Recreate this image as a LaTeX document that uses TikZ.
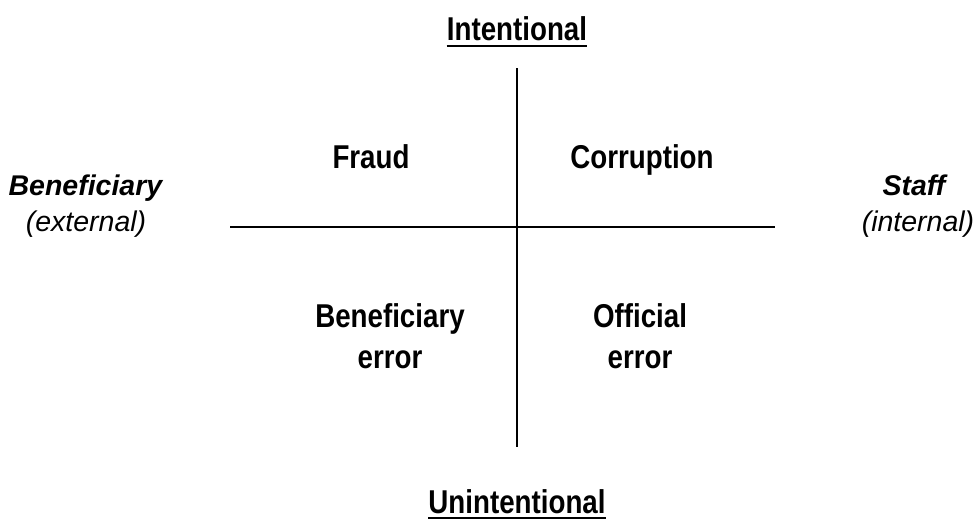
\documentclass[tikz,border=0pt]{standalone}
\usepackage{fontspec}
\setmainfont{Liberation Sans}
\newfontfamily\narrowfont{Liberation Sans}[FakeStretch=0.84]
\begin{document}
\begin{tikzpicture}[x=1pt,y=-1pt,
  axis/.style={line width=2.6pt},
  lbl/.style={font=\narrowfont\fontsize{33}{41}\selectfont\bfseries, align=center, inner sep=0pt, anchor=base},
  side/.style={font=\fontsize{28.5}{36}\selectfont, align=center, inner sep=0pt, anchor=base},
  uline/.style={line width=1.8pt}]
  \useasboundingbox (0,0) rectangle (978,520);

  % quadrant axes
  \coordinate (top) at (517,68);
  \coordinate (bot) at (517,447);
  \coordinate (left) at (230,227);
  \coordinate (right) at (775,227);
  \draw[axis] (top) -- (bot);
  \draw[axis] (left) -- (right);

  % poles of the vertical axis
  \node[lbl] (int) at (517,40) {Intentional};
  \draw[uline] ([yshift=-6pt]int.base west) -- ([yshift=-6pt]int.base east);
  \node[lbl] (unint) at (517,513) {Unintentional};
  \draw[uline] ([yshift=-5pt]unint.base west) -- ([yshift=-5pt]unint.base east);

  % poles of the horizontal axis (anchored on the baseline of the last line)
  \node[side] (benef) at (86,231) {\textbf{\textit{Beneficiary}}\\\textit{(external)}};
  \node[side] (staff) at (918,231) {\hspace*{-0.2em}\textbf{\textit{Staff}}\\\textit{(internal)}};

  % quadrant labels
  \node[lbl] (fraud) at (371,168) {Fraud};
  \node[lbl] (corr) at (642,168) {Corruption};
  \node[lbl] (berr) at (390,368) {Beneficiary\\error};
  \node[lbl] (oerr) at (640,368) {Official\\error};
\end{tikzpicture}
\end{document}
